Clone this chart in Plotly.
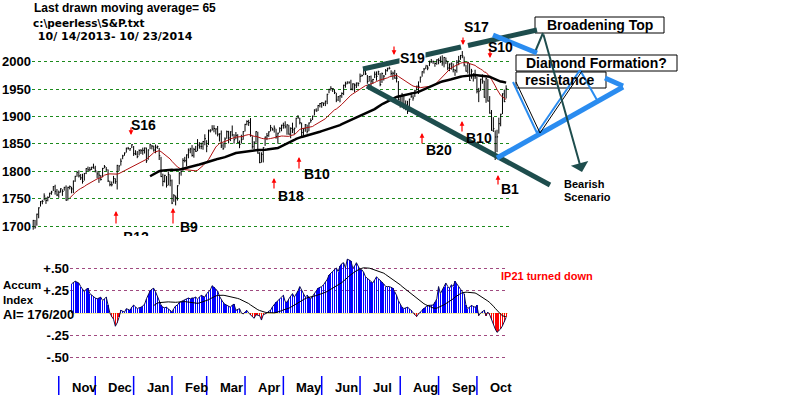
import numpy as np
import pandas as pd
import plotly.graph_objects as go

# ---------------- data ----------------
start_date = "2013-10-14"
end_date = "2014-10-23"
holidays = ["2013-11-28", "2013-12-25", "2014-01-01", "2014-01-20", "2014-02-17",
            "2014-04-18", "2014-05-26", "2014-07-04", "2014-09-01"]

close = [
    1710.14, 1698.06, 1721.54, 1733.15, 1744.50, 1744.66, 1754.67, 1746.38, 1752.07, 1759.77, 1762.11, 1771.95, 1763.31, 1756.54,
    1761.64, 1767.93, 1762.97, 1770.49, 1747.15, 1770.61, 1771.89, 1767.69, 1782.00, 1790.62, 1798.18, 1791.53, 1787.87, 1781.37, 1795.85, 1804.76, 1802.48, 1802.75, 1807.23, 1805.81,
    1800.90, 1795.15, 1792.81, 1785.03, 1805.09, 1808.37, 1802.62, 1782.22, 1775.50, 1775.32, 1786.54, 1781.00, 1810.65, 1809.60, 1818.32, 1827.99, 1833.32, 1842.02, 1841.40, 1841.07, 1848.36,
    1831.98, 1831.37, 1826.77, 1837.88, 1837.49, 1838.13, 1842.37, 1819.20, 1838.88, 1848.38, 1845.89, 1838.70, 1843.80, 1844.86, 1828.46, 1790.29, 1781.56, 1792.50, 1774.20, 1794.19, 1782.59,
    1741.89, 1755.20, 1751.64, 1773.43, 1797.02, 1799.84, 1819.75, 1819.26, 1829.83, 1838.63, 1840.76, 1828.75, 1839.78, 1836.25, 1847.61, 1845.12, 1845.16, 1854.29, 1859.45,
    1845.73, 1873.91, 1873.81, 1877.03, 1878.04, 1877.17, 1867.63, 1868.20, 1846.34, 1841.13, 1858.83, 1872.25, 1860.77, 1872.01, 1866.52, 1857.44, 1865.62, 1852.56, 1849.04, 1857.62, 1872.34,
    1885.52, 1890.90, 1888.77, 1865.09, 1845.04, 1851.96, 1872.18, 1833.08, 1815.69, 1830.61, 1842.98, 1862.31, 1864.85, 1871.89, 1879.55, 1875.39, 1878.61, 1863.40, 1869.43, 1878.33, 1883.95,
    1883.68, 1881.14, 1884.66, 1867.72, 1878.21, 1875.63, 1878.48, 1896.65, 1897.45, 1888.53, 1870.85, 1877.86, 1885.08, 1872.83, 1888.03, 1892.49, 1900.53, 1911.91, 1909.78, 1920.03, 1923.57,
    1924.97, 1924.24, 1927.88, 1940.46, 1949.44, 1951.27, 1950.79, 1943.89, 1930.11, 1936.16, 1937.78, 1941.99, 1956.98, 1959.48, 1962.87, 1962.61, 1949.98, 1959.53, 1957.22, 1960.96, 1960.23,
    1973.32, 1974.62, 1985.44, 1977.65, 1963.71, 1972.83, 1964.68, 1967.57, 1977.10, 1973.28, 1981.57, 1958.12, 1978.22, 1973.63, 1983.53, 1987.01, 1987.98, 1978.34, 1978.91, 1969.95, 1970.07, 1930.67,
    1925.15, 1938.99, 1920.21, 1920.24, 1909.57, 1931.59, 1936.92, 1933.75, 1946.72, 1955.18, 1955.06, 1971.74, 1981.60, 1986.51, 1992.37, 1988.40, 1997.92, 2000.02, 2000.12, 1996.74, 2003.37,
    2002.28, 2000.72, 1997.65, 2007.71, 2001.54, 1988.44, 1995.69, 1997.45, 1985.54, 1984.13, 1998.98, 2001.57, 2011.36, 2010.40, 1994.29, 1982.77, 1998.30, 1965.99, 1982.85, 1977.80, 1972.29,
    1946.16, 1946.17, 1967.90, 1964.82, 1935.10, 1968.89, 1928.21, 1906.13, 1874.74, 1877.70, 1862.49, 1862.76, 1886.76, 1904.01, 1941.28, 1927.11, 1950.82,
]

# points above the close (high) and below the close (low)
hi_up = [
    1, 13, 1, 1, 1, 3, 5, 6, 2, 1, 2, 1, 12, 11,
    3, 1, 4, 1, 27, 1, 2, 4, 1, 1, 1, 10, 7, 14, 1, 1, 6, 5, 1, 8,
    9, 5, 7, 8, 1, 3, 5, 21, 7, 6, 5, 6, 1, 1, 5, 2, 1, 1, 3, 1, 1,
    14, 7, 10, 2, 3, 5, 1, 24, 1, 2, 2, 8, 5, 2, 14, 36, 14, 1, 17, 5, 11,
    43, 3, 4, 1, 1, 1, 4, 7, 1, 3, 2, 19, 3, 10, 11, 8, 7, 1, 8,
    11, 2, 3, 7, 6, 1, 15, 1, 28, 11, 3, 2, 13, 1, 17, 10, 6, 15, 7, 9, 1,
    1, 2, 5, 32, 19, 3, 1, 39, 19, 4, 1, 1, 5, 1, 5, 4, 5, 14, 1, 2, 1,
    5, 10, 1, 17, 2, 13, 1, 1, 5, 9, 18, 1, 1, 12, 1, 4, 1, 1, 5, 1, 1,
    1, 1, 1, 1, 1, 4, 1, 5, 13, 1, 1, 2, 1, 4, 1, 1, 17, 1, 3, 1, 2,
    5, 2, 1, 7, 12, 1, 10, 1, 5, 9, 2, 21, 2, 2, 3, 2, 3, 6, 3, 15, 9, 34,
    12, 4, 19, 9, 19, 1, 7, 5, 2, 1, 9, 1, 1, 2, 2, 5, 4, 5, 2, 2, 1,
    4, 9, 14, 1, 6, 13, 1, 1, 11, 2, 4, 9, 1, 9, 15, 11, 2, 31, 4, 1, 13,
    26, 6, 1, 12, 30, 2, 40, 31, 37, 21, 12, 13, 11, 1, 1, 22, 6,
]
lo_dn = [
    17, 3, 21, 19, 9, 5, 8, 6, 7, 8, 5, 8, 6, 2,
    10, 7, 8, 6, 1, 24, 5, 8, 22, 10, 8, 3, 4, 4, 13, 10, 2, 3, 5, 1,
    3, 8, 14, 2, 16, 3, 2, 2, 3, 3, 9, 4, 44, 9, 8, 6, 5, 8, 2, 4, 6,
    4, 2, 3, 9, 6, 8, 10, 4, 18, 8, 6, 3, 11, 4, 8, 1, 9, 13, 4, 20, 10,
    2, 11, 14, 27, 21, 8, 19, 3, 21, 15, 8, 2, 15, 1, 11, 4, 5, 15, 12,
    11, 26, 3, 3, 7, 10, 4, 14, 4, 2, 16, 13, 10, 17, 3, 7, 7, 1, 7, 7, 15,
    13, 7, 6, 2, 4, 12, 20, 1, 1, 15, 27, 16, 8, 9, 7, 1, 8, 4, 19, 8, 11,
    6, 3, 18, 1, 18, 6, 11, 17, 1, 3, 8, 13, 13, 4, 15, 4, 7, 10, 1, 10, 7,
    9, 5, 9, 18, 7, 4, 6, 3, 4, 8, 12, 8, 18, 7, 4, 3, 2, 12, 13, 9, 5,
    11, 2, 10, 2, 4, 9, 12, 8, 7, 8, 6, 3, 17, 8, 8, 5, 2, 4, 12, 1, 8, 1,
    9, 18, 7, 9, 5, 23, 3, 5, 11, 8, 14, 10, 9, 8, 6, 4, 6, 2, 4, 6, 9,
    7, 3, 5, 18, 6, 4, 13, 12, 5, 10, 19, 8, 8, 4, 3, 1, 20, 1, 14, 14, 4,
    4, 20, 21, 5, 1, 44, 1, 1, 1, 6, 42, 28, 18, 22, 37, 1, 18,
]

# Accumulation Index, first value is trading day 21
ai_start_day = 21
ai = [
    .33, .35, .36, .35, .34, .30, .27, .24, .27, .28,
    .22, .20, .18, .17, .16, .17, .18, .14, .16, .18,
    .09, .00, -.04, -.07, -.15, -.11, -.05, .03, .02, .01,
    .05, .04, .03, .065, .09, .07, .05, .06, .065, .08,
    .10, .16, .21, .25, .27, .28, .24, .19, .14, .09,
    .065, .06, .065, .05, .03, .01, .05, .08, .09, .12,
    .13, .14, .15, .16, .17, .16, .17, .17, .18, .16,
    .18, .20, .19, .18, .22, .24, .26, .31, .29, .27,
    .25, .19, .15, .12, .10, .09, .08, .065, .09, .10,
    .03, .04, .05, .00, -.01, .01, .03, .00, -.02, -.04,
    -.06, -.02, -.025, -.03, -.08, -.02, -.01, .00, .02, .03,
    .07, .10, .12, .14, .16, .17, .20, .13, .12, .16,
    .19, .22, .18, .21, .25, .30, .26, .22, .18, .20,
    .18, .16, .19, .22, .25, .28, .29, .30, .32, .35,
    .38, .43, .45, .47, .50, .51, .47, .53, .56, .57,
    .51, .61, .60, .59, .51, .53, .57, .52, .49, .49,
    .46, .41, .39, .375, .35, .34, .375, .41, .39, .375,
    .35, .33, .30, .30, .30, .29, .28, .24, .20, .14,
    .10, .065, .05, .055, .065, .05, .03, .00, -.02, -.04,
    -.01, .01, .04, .055, .07, .085, .085, .085, .09, .12,
    .16, .30, .22, .26, .30, .34, .30, .28, .32, .30,
    .36, .33, .30, .26, .24, .22, .085, .05, .07, .085,
    .075, .065, .085, -.03, .00, .02, .03, -.03, .01, -.02,
    -.08, -.14, -.18, -.22, -.20, -.18, -.145, -.10, -.05,
]
ai_ma_first_day = 66

price_ticks = [1700, 1750, 1800, 1850, 1900, 1950, 2000]
ai_ticks = [-0.5, -0.25, 0.25, 0.5]
ai_tick_text = ["-.50", "-.25", "+.25", "+.50"]
month_labels = ["Nov", "Dec", "Jan", "Feb", "Mar", "Apr", "May", "Jun", "Jul", "Aug", "Sep", "Oct"]

# ---------------- derived ----------------
dates = pd.bdate_range(start_date, end_date)
dates = dates[~dates.isin(pd.to_datetime(holidays))]
n = len(close)
assert len(dates) == n and len(hi_up) == n and len(lo_dn) == n
close_a = np.array(close)
high = close_a + np.array(hi_up)
low = close_a - np.array(lo_dn)
days = np.arange(n)

ma21 = pd.Series(close).rolling(21).mean()
ma65 = pd.Series(close).rolling(65).mean()

ai_days = np.arange(ai_start_day, ai_start_day + len(ai))
ai_ma = pd.Series(ai).rolling(21).mean()
ai_ma[ai_days < ai_ma_first_day] = np.nan

month_starts = [i for i in range(1, n) if dates[i].month != dates[i - 1].month]

# ---------------- geometry helpers ----------------
W, H = 800, 395
PX_PER_DAY = 1.826
X0 = 33.2  # pixel of day 0
FONT = "Liberation Sans, Arial"


def px(x):
    return x / W


def py(y):
    return 1 - y / H


def day_range(left, right):
    return [(left - X0) / PX_PER_DAY, (right - X0) / PX_PER_DAY]


fig = go.Figure()

# price bars
bx, by, cx, cy = [], [], [], []
for d in days:
    bx += [d, d, None]
    by += [low[d], high[d], None]
    cx += [d, d + 0.6, None]
    cy += [close[d], close[d], None]
fig.add_trace(go.Scatter(x=bx, y=by, mode="lines", line=dict(color="black", width=1),
                         hoverinfo="skip", xaxis="x", yaxis="y"))
fig.add_trace(go.Scatter(x=cx, y=cy, mode="lines", line=dict(color="black", width=1),
                         hoverinfo="skip", xaxis="x", yaxis="y"))
fig.add_trace(go.Scatter(x=days, y=ma21, mode="lines", line=dict(color="#B01010", width=1),
                         xaxis="x", yaxis="y"))
fig.add_trace(go.Scatter(x=days, y=ma65, mode="lines", line=dict(color="black", width=2.5),
                         xaxis="x", yaxis="y"))
# clipped signal label at the bottom of the price panel
fig.add_trace(go.Scatter(x=[(136 - X0) / PX_PER_DAY], y=[1677], mode="text", text=["B12"],
                         textfont=dict(family=FONT, size=14, color="black", weight="bold"),
                         cliponaxis=True, xaxis="x", yaxis="y"))

# accumulation index
ai_colors = ["rgba(0,0,255,0.995)" if v >= 0 else "rgba(255,0,0,0.995)" for v in ai]
fig.add_trace(go.Bar(x=ai_days, y=ai, marker=dict(color=ai_colors, line=dict(width=0)),
                     width=0.65, xaxis="x2", yaxis="y2"))
fig.add_trace(go.Scatter(x=ai_days, y=ai, mode="lines", line=dict(color="#101050", width=1),
                         xaxis="x2", yaxis="y2"))
fig.add_trace(go.Scatter(x=ai_days, y=ai_ma, mode="lines", line=dict(color="black", width=1),
                         xaxis="x2", yaxis="y2"))

# month separators
mx, my = [], []
for m in month_starts:
    mx += [m, m, None]
    my += [0, 1, None]
fig.add_trace(go.Scatter(x=mx, y=my, mode="lines", line=dict(color="#0000FF", width=1.5),
                         xaxis="x3", yaxis="y3"))

bold = dict(family=FONT, color="black", weight="bold")

fig.update_layout(
    width=W, height=H, margin=dict(l=0, r=0, t=0, b=0),
    paper_bgcolor="white", plot_bgcolor="white", showlegend=False, bargap=0,
    xaxis=dict(domain=[px(32), px(510)], range=day_range(32, 510), visible=False, anchor="y"),
    yaxis=dict(domain=[py(236), py(0)], range=[1700 - 10 / 0.5477, 1700 + 226 / 0.5477],
               tickvals=price_ticks, ticktext=[str(t) for t in price_ticks],
               tickfont=dict(size=13, **bold), showgrid=True, gridcolor="#1C8A1C", griddash="dot",
               gridwidth=1, zeroline=False, showline=False, ticks="", anchor="x"),
    xaxis2=dict(domain=[px(70), px(508)], range=day_range(70, 508), visible=False, anchor="y2"),
    yaxis2=dict(domain=[py(370), py(250)], range=[-(370 - 313) / 88.3, (313 - 250) / 88.3],
                tickvals=ai_ticks, ticktext=ai_tick_text, tickfont=dict(size=13, **bold),
                showgrid=True, gridcolor="#A04A80", griddash="dot", gridwidth=1,
                zeroline=True, zerolinecolor="#F2EDA0", zerolinewidth=1, showline=False,
                ticks="", anchor="x2"),
    xaxis3=dict(domain=[0, 1], range=day_range(0, W), visible=False, anchor="y3"),
    yaxis3=dict(domain=[0, py(376)], range=[0, 1], visible=False, anchor="x3"),
)

shapes = []


def rect(x0, y0, x1, y1):
    shapes.append(dict(type="rect", xref="paper", yref="paper", x0=px(x0), y0=py(y0), x1=px(x1), y1=py(y1),
                       line=dict(color="black", width=1), fillcolor="white", layer="above"))


def seg(x0, y0, x1, y1, color, width):
    shapes.append(dict(type="line", xref="paper", yref="paper", x0=px(x0), y0=py(y0), x1=px(x1), y1=py(y1),
                       line=dict(color=color, width=width), layer="above"))


DARK = "#1E4D4D"
BLUE = "#2A8CF0"
rect(535, 17, 664, 33)
rect(516, 55, 677, 71)
rect(516, 72, 606, 88)

seg(363, 69, 461, 47, DARK, 5)
seg(468, 45.5, 537, 30, DARK, 5)
seg(367, 86, 550, 185, DARK, 5)
seg(543, 33, 535, 52, DARK, 2)
seg(493, 35, 537, 53, BLUE, 5)
seg(497, 158, 623, 87, BLUE, 5)
seg(605, 78, 623, 86, BLUE, 5)
seg(513, 82, 537, 133, BLUE, 2)
seg(537, 133, 580, 70, BLUE, 2)
seg(580, 70, 597, 100, BLUE, 2)
seg(516, 82, 540, 133, "black", 1)
seg(540, 133, 582, 71, "black", 1)
fig.update_layout(shapes=shapes)

ann = []


def text(t, x, y, size=13, color="black", xanchor="left", bg=None, family=FONT):
    ann.append(dict(text=t, x=px(x), y=py(y), xref="paper", yref="paper", showarrow=False,
                    xanchor=xanchor, yanchor="middle", align="left",
                    font=dict(family=family, size=size, color=color, weight="bold"),
                    bgcolor=bg, borderpad=0))


def arrow(x, head, tail, color="#FF0000", width=1.2):
    ann.append(dict(text="", x=px(x), y=py(head), xref="paper", yref="paper", showarrow=True,
                    ax=0, ay=tail - head, arrowcolor=color, arrowwidth=width, arrowhead=2,
                    arrowsize=0.8, standoff=0))


DEJA = "DejaVu Sans, Liberation Sans"
text("Last drawn moving average= 65", 33, 8, 12)
text("c:\\peerless\\S&P.txt", 32, 23, 10.5, family=DEJA)
text(" 10/ 14/2013- 10/ 23/2014", 33, 36, 11, family=DEJA)

text("Broadening Top", 599.5, 25, 14, xanchor="center")
text("Diamond Formation?", 596.5, 63, 14, xanchor="center")
text("resistance", 524, 80, 14)
text("Bearish", 563, 184, 11)
text("Scenario", 563, 197, 11)
text("IP21 turned down", 500, 276, 11, color="#FF0000")
text("Accum<br>Index<br><span style='font-size:13px'>AI= 176/200</span>", 2, 300, 11.5)

# signals
for x, head, tail in [(131, 135, 126), (394, 55, 45), (463, 45, 36), (490, 58, 47)]:
    arrow(x, head, tail)
for x, head, tail in [(116, 211, 225), (173, 208, 225), (274, 178, 190), (299, 157, 170),
                      (422, 133, 145), (462, 121, 133), (498, 175, 186)]:
    arrow(x, head, tail)
text("S16", 143.5, 125, 14, xanchor="center")
text("B9", 188.5, 227, 14, xanchor="center")
text("B18", 290.5, 196, 14, xanchor="center")
text("B10", 316.5, 174, 14, xanchor="center")
text("B20", 439.5, 150, 14, xanchor="center")
text("B10", 479, 138, 14, xanchor="center")
text("B1", 510, 189, 14, xanchor="center")
text("S19", 412, 58, 14, xanchor="center", bg="white")
text("S17", 477, 27, 14, xanchor="center")
text("S10", 500.5, 47, 14, xanchor="center")

# bearish scenario arrow
ann.append(dict(text="", x=px(582), y=py(172), xref="paper", yref="paper", showarrow=True,
                ax=543 - 582, ay=33 - 172, arrowcolor=DARK, arrowwidth=2, arrowhead=1,
                arrowsize=1.5, standoff=0))

# month labels
for m, lab in zip(month_starts, month_labels):
    ann.append(dict(text=lab, x=m + 11 / PX_PER_DAY, y=py(387), xref="x3", yref="paper",
                    showarrow=False, xanchor="left", yanchor="middle",
                    font=dict(family=FONT, size=13, color="black", weight="bold")))

fig.update_layout(annotations=ann)
fig.write_html("out.html", config={"displayModeBar": False},
               post_script="document.body.style.margin='0px';document.body.style.overflow='hidden';")
